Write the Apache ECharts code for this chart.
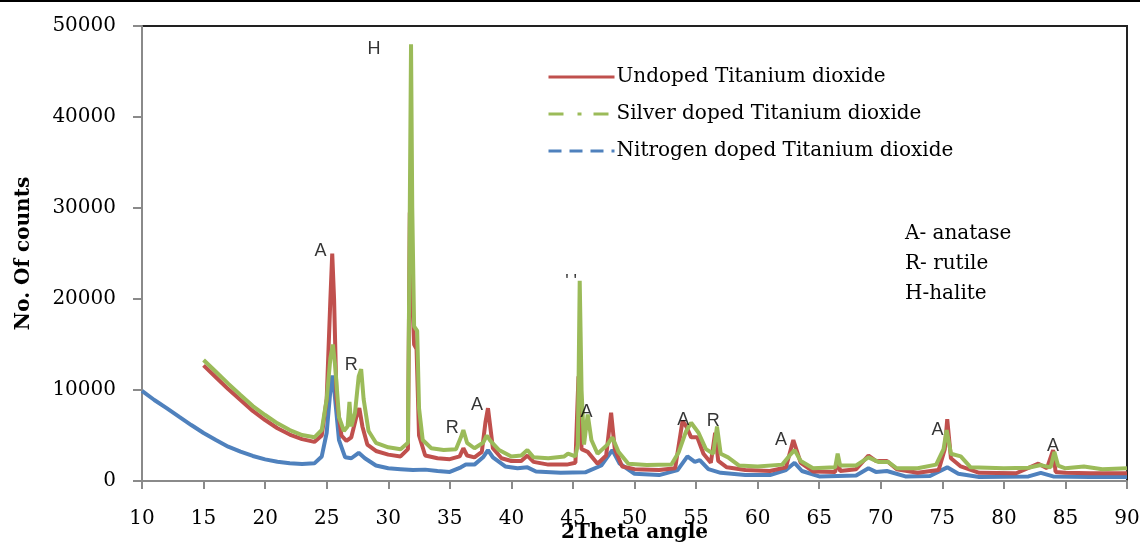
<!DOCTYPE html>
<html>
<head>
<meta charset="utf-8">
<script src="https://cdn.jsdelivr.net/npm/echarts@6/dist/echarts.min.js"></script>
<style>html,body{margin:0;padding:0;background:#fff;}#c{width:1140px;height:544px;}</style>
</head>
<body>
<div id="c"></div>
<script>
// ---- data (2Theta angle, No. of counts) ----
const seriesNames = ['Undoped Titanium dioxide', 'Silver doped Titanium dioxide', 'Nitrogen doped Titanium dioxide'];

const undoped = [[15,12700],[16,11400],[17,10100],[18,8900],[19,7700],[20,6700],[21,5800],[22,5100],[23,4600],[24,4300],[24.6,5000],[25.0,9000],[25.3,20000],[25.45,25000],[25.6,20000],[25.8,9000],[26.2,5000],[26.6,4400],[27.0,4800],[27.4,7000],[27.65,8000],[27.9,6000],[28.3,4000],[29,3300],[30,2900],[31,2700],[31.6,3500],[31.75,29500],[31.9,22000],[32.1,15000],[32.3,14500],[32.5,5000],[33,2800],[34,2500],[35,2400],[35.8,2700],[36.1,3600],[36.4,2800],[37,2600],[37.6,3200],[37.9,6500],[38.1,8000],[38.5,3600],[39.2,2500],[40,2200],[40.8,2200],[41.3,2800],[41.8,2100],[43,1800],[44.5,1800],[45.2,2000],[45.45,11500],[45.7,3500],[46.2,3200],[47,1900],[47.7,2800],[48.1,7500],[48.4,3500],[49,1600],[50,1300],[52,1200],[53.3,1400],[53.9,6600],[54.2,6000],[54.6,4800],[55.1,4800],[55.6,3000],[56.2,2000],[56.55,5300],[56.8,2200],[57.5,1500],[59,1200],[61,1100],[62.3,1500],[62.9,4500],[63.5,2000],[64.5,1050],[66.3,1000],[66.5,2300],[66.7,1100],[68,1300],[69,2800],[69.6,2200],[70.5,2200],[71.3,1300],[73,900],[74.7,1200],[75.2,3500],[75.4,6800],[75.7,2500],[76.5,1600],[78,900],[81,850],[82.8,1900],[83.5,1400],[84.0,3400],[84.2,1000],[85,900],[87,850],[90,850]];

const silver = [[15,13300],[16,12000],[17,10700],[18,9450],[19,8240],[20,7250],[21,6340],[22,5600],[23,5050],[24,4800],[24.6,5600],[25.0,9000],[25.3,13500],[25.5,15000],[25.7,12500],[26.0,7000],[26.4,5500],[26.7,6000],[26.85,8700],[27.0,6000],[27.3,7500],[27.6,11500],[27.8,12300],[28.0,9000],[28.4,5500],[29,4200],[30,3700],[31,3500],[31.6,4200],[31.75,30000],[31.85,48000],[31.95,30000],[32.1,17000],[32.35,16500],[32.5,8000],[32.8,4500],[33.5,3600],[34.5,3400],[35.5,3500],[35.9,4800],[36.1,5600],[36.4,4200],[37,3600],[37.7,4200],[38.0,5000],[38.3,4400],[39,3400],[40,2700],[40.8,2800],[41.3,3400],[41.8,2600],[43,2500],[44.3,2700],[44.6,3000],[45.2,2700],[45.4,4000],[45.55,22000],[45.7,10000],[45.9,4000],[46.2,7300],[46.5,4500],[47,3000],[47.8,4000],[48.2,4800],[48.7,3200],[49.5,1900],[51,1750],[53,1800],[53.6,3200],[54.2,5500],[54.6,6400],[55.2,5300],[55.8,3500],[56.4,3000],[56.7,6000],[57.0,3000],[57.6,2600],[58.5,1700],[60,1600],[62,1800],[62.6,2800],[63,3400],[63.5,2200],[64.5,1400],[66.3,1500],[66.5,3000],[66.7,1700],[68,1700],[69,2600],[69.8,2100],[70.6,2100],[71.3,1400],[73,1400],[74.5,1800],[75.1,3500],[75.35,5600],[75.7,3000],[76.5,2700],[77.3,1500],[80,1400],[82,1450],[83,1750],[83.8,1500],[84.1,3200],[84.4,1700],[85,1400],[86.5,1600],[88,1300],[90,1400]];

const nitrogen = [[10,9900],[11,8900],[12,8000],[13,7070],[14,6150],[15,5270],[16,4500],[17,3770],[18,3220],[19,2750],[20,2380],[21,2120],[22,1940],[23,1870],[24,1940],[24.6,2700],[25.0,5300],[25.3,10000],[25.45,11600],[25.65,9500],[26.0,4500],[26.5,2600],[27.0,2500],[27.6,3100],[28.1,2500],[29,1700],[30,1400],[31,1300],[32,1200],[33,1250],[34,1100],[35,1000],[35.9,1500],[36.3,1800],[37,1800],[37.7,2600],[38.1,3400],[38.5,2600],[39.5,1600],[40.5,1400],[41.3,1500],[42,1050],[44,900],[46,950],[47.3,1700],[48.2,3400],[48.8,1900],[50,800],[52,650],[53.5,1200],[54.3,2700],[54.9,2100],[55.3,2300],[56,1300],[57,900],[59,650],[61,650],[62.3,1200],[63,2000],[63.6,1100],[65,500],[68,600],[69,1400],[69.6,1000],[70.5,1100],[72,500],[74,550],[75.4,1500],[76.3,800],[78,450],[82,500],[83,900],[84,500],[87,450],[90,450]];

// phase labels placed at (2Theta, counts)
const phaseLabels = [[28.85,47500,'H'],[24.5,25300,'A'],[27.0,12700,'R'],[35.2,5800,'R'],[37.2,8350,'A'],[44.85,21900,"' '"],[46.1,7600,'A'],[53.95,6700,'A'],[56.4,6600,'R'],[61.9,4500,'A'],[74.6,5600,'A'],[84.0,3850,'A']];

const xTicks = {min: 10, max: 90, interval: 5};
const yTicks = {min: 0, max: 50000, interval: 10000};
const keyLines = ['A- anatase', 'R- rutile', 'H-halite'];

const RED = '#C0504D', GREEN = '#9BBB59', BLUE = '#4F81BD';
const serif = '"DejaVu Serif", serif';

const chart = echarts.init(document.getElementById('c'));
chart.setOption({
  animation: false,
  backgroundColor: '#fff',
  grid: {left: 142, right: 13, top: 26, bottom: 63, containLabel: false, outerBoundsMode: 'none',
         show: true, borderColor: '#222', borderWidth: 2},
  legend: {
    left: 542, top: 62, orient: 'vertical', itemGap: 17, itemWidth: 66, itemHeight: 12,
    textStyle: {fontFamily: serif, fontSize: 20, color: '#000', padding: [0,0,0,-3]},
    itemStyle: {color: 'transparent', borderColor: 'transparent', borderWidth: 0, opacity: 0},
    data: [
      {name: seriesNames[0], lineStyle: {type: 'solid', width: 3, color: RED}},
      {name: seriesNames[1], lineStyle: {type: [15, 14, 4, 12], width: 3, color: GREEN}},
      {name: seriesNames[2], lineStyle: {type: [13, 8], width: 3, color: BLUE}}
    ]
  },
  xAxis: {
    type: 'value', min: xTicks.min, max: xTicks.max, interval: xTicks.interval,
    name: '2Theta angle', nameLocation: 'middle', nameGap: 42, nameMoveOverlap: false,
    nameTextStyle: {fontFamily: serif, fontWeight: 'bold', fontSize: 20, color: '#000'},
    axisLine: {lineStyle: {color: '#8a8a8a', width: 2}},
    axisTick: {show: true, length: 8, inside: false, lineStyle: {color: '#8a8a8a', width: 2}},
    axisLabel: {margin: 28, fontFamily: serif, fontSize: 20, color: '#000', formatter: v => String(v)},
    splitLine: {show: false}
  },
  yAxis: {
    type: 'value', min: yTicks.min, max: yTicks.max, interval: yTicks.interval,
    name: 'No. Of counts', nameLocation: 'middle', nameGap: 108, nameRotate: 90, nameMoveOverlap: false,
    nameTextStyle: {fontFamily: serif, fontWeight: 'bold', fontSize: 20, color: '#000'},
    axisLine: {show: true, lineStyle: {color: '#8a8a8a', width: 2}},
    axisTick: {show: true, length: 9, lineStyle: {color: '#8a8a8a', width: 2}},
    axisLabel: {margin: 26, fontFamily: serif, fontSize: 20, color: '#000', formatter: v => String(v)},
    splitLine: {show: false}
  },
  series: [
    {name: seriesNames[2], type: 'line', data: nitrogen, symbol: 'none', lineStyle: {color: BLUE, width: 4}, itemStyle: {color: BLUE}, z: 2},
    {name: seriesNames[0], type: 'line', data: undoped, symbol: 'none', lineStyle: {color: RED, width: 4}, itemStyle: {color: RED}, z: 3},
    {name: seriesNames[1], type: 'line', data: silver, symbol: 'none', lineStyle: {color: GREEN, width: 4}, itemStyle: {color: GREEN}, z: 4},
    {name: 'labels', type: 'scatter', data: phaseLabels, symbolSize: 0, silent: true, z: 5,
     label: {show: true, position: 'inside', formatter: p => p.data[2],
             fontFamily: '"Liberation Sans", Arial, sans-serif', fontSize: 18, color: '#000'}}
  ],
  graphic: [
    {type: 'line', shape: {x1: 0, y1: 1, x2: 1140, y2: 1}, style: {stroke: '#000', lineWidth: 2}},
    {type: 'text', left: 905, top: 224, style: {text: keyLines[0], font: '20px ' + serif, fill: '#000'}},
    {type: 'text', left: 905, top: 254, style: {text: keyLines[1], font: '20px ' + serif, fill: '#000'}},
    {type: 'text', left: 905, top: 284, style: {text: keyLines[2], font: '20px ' + serif, fill: '#000'}}
  ]
});
</script>
</body>
</html>
